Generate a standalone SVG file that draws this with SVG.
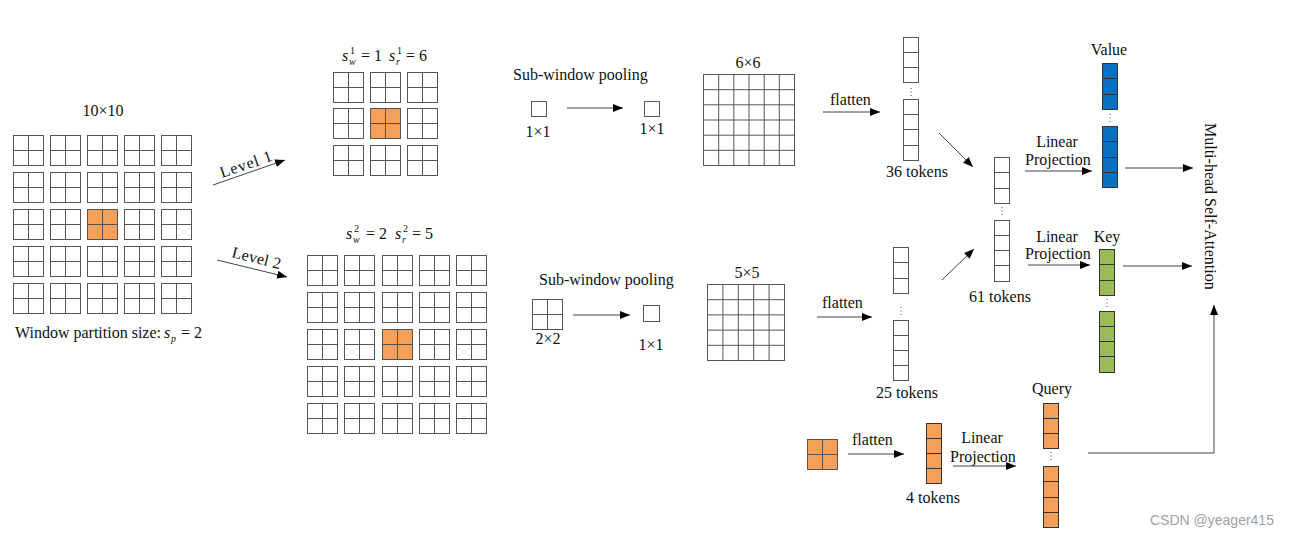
<svg xmlns="http://www.w3.org/2000/svg" xmlns:xlink="http://www.w3.org/1999/xlink" width="1289" height="536" viewBox="0 0 1289 536">
<style>
text{font-family:"Liberation Serif","Times New Roman",serif;font-size:16px;fill:#111}
.c{text-anchor:middle}
.it{font-style:italic}
.sc{font-size:10px}
.g{stroke:#555;stroke-width:1;fill:#fff}
.gl{stroke:#555;stroke-width:1;fill:none}
.dk{stroke:#333;stroke-width:1}
.or{fill:#F5A05A}
.bl{fill:#0B6FBF}
.gr{fill:#9BBB59}
.dots{stroke:#444;stroke-width:1;stroke-dasharray:1 2.5;fill:none}
.ar{stroke:#444;stroke-width:1;fill:none;marker-end:url(#ah)}
.wm{font-family:"Liberation Sans",Arial,sans-serif;font-size:14px;fill:#a0a0a0}
</style>
<defs>
<marker id="ah" markerUnits="userSpaceOnUse" markerWidth="11" markerHeight="9" refX="10" refY="4" orient="auto">
<path d="M0,0 L10,4 L0,8 Z" fill="#000"/>
</marker>
<g id="win"><rect class="g" x="0.5" y="0.5" width="30" height="30"/><path class="gl" d="M15.5 0.5V30.5M0.5 15.5H30.5"/></g>
<g id="wino"><rect class="g or" x="0.5" y="0.5" width="30" height="30"/><path class="gl" d="M15.5 0.5V30.5M0.5 15.5H30.5"/></g>
</defs>
<rect width="1289" height="536" fill="#fff"/>

<g id="input-grid">
<text class="c" x="103" y="116">10×10</text>
<use href="#win" x="13" y="135"/><use href="#win" x="50" y="135"/><use href="#win" x="87" y="135"/><use href="#win" x="124" y="135"/><use href="#win" x="161" y="135"/>
<use href="#win" x="13" y="172"/><use href="#win" x="50" y="172"/><use href="#win" x="87" y="172"/><use href="#win" x="124" y="172"/><use href="#win" x="161" y="172"/>
<use href="#win" x="13" y="209"/><use href="#win" x="50" y="209"/><use href="#wino" x="87" y="209"/><use href="#win" x="124" y="209"/><use href="#win" x="161" y="209"/>
<use href="#win" x="13" y="246"/><use href="#win" x="50" y="246"/><use href="#win" x="87" y="246"/><use href="#win" x="124" y="246"/><use href="#win" x="161" y="246"/>
<use href="#win" x="13" y="283"/><use href="#win" x="50" y="283"/><use href="#win" x="87" y="283"/><use href="#win" x="124" y="283"/><use href="#win" x="161" y="283"/>
<text x="15" y="338">Window partition size:</text>
<text class="it" x="164" y="338">s</text><text class="it sc" x="171" y="342">p</text>
<text x="181" y="338">= 2</text>
</g>

<g id="level1-grid">
<text class="it" x="342" y="61">s</text><text class="sc" x="350" y="54">1</text><text class="it sc" x="349" y="65">w</text><text x="361" y="61">= 1</text>
<text class="it" x="389" y="61">s</text><text class="sc" x="397" y="54">1</text><text class="it sc" x="396" y="65">r</text><text x="406" y="61">= 6</text>
<use href="#win" x="333" y="72"/><use href="#win" x="370" y="72"/><use href="#win" x="407" y="72"/>
<use href="#win" x="333" y="108"/><use href="#wino" x="370" y="108"/><use href="#win" x="407" y="108"/>
<use href="#win" x="333" y="145"/><use href="#win" x="370" y="145"/><use href="#win" x="407" y="145"/>
</g>

<g id="level2-grid">
<text class="it" x="346" y="239">s</text><text class="sc" x="354" y="232">2</text><text class="it sc" x="353" y="243">w</text><text x="366" y="239">= 2</text>
<text class="it" x="395" y="239">s</text><text class="sc" x="403" y="232">2</text><text class="it sc" x="402" y="243">r</text><text x="412" y="239">= 5</text>
<use href="#win" x="307" y="255"/><use href="#win" x="344" y="255"/><use href="#win" x="382" y="255"/><use href="#win" x="419" y="255"/><use href="#win" x="456" y="255"/>
<use href="#win" x="307" y="292"/><use href="#win" x="344" y="292"/><use href="#win" x="382" y="292"/><use href="#win" x="419" y="292"/><use href="#win" x="456" y="292"/>
<use href="#win" x="307" y="329"/><use href="#win" x="344" y="329"/><use href="#wino" x="382" y="329"/><use href="#win" x="419" y="329"/><use href="#win" x="456" y="329"/>
<use href="#win" x="307" y="366"/><use href="#win" x="344" y="366"/><use href="#win" x="382" y="366"/><use href="#win" x="419" y="366"/><use href="#win" x="456" y="366"/>
<use href="#win" x="307" y="403"/><use href="#win" x="344" y="403"/><use href="#win" x="382" y="403"/><use href="#win" x="419" y="403"/><use href="#win" x="456" y="403"/>
</g>

<g id="pool1">
<text x="513" y="80">Sub-window pooling</text>
<rect class="g" x="531.5" y="101.5" width="15" height="15"/>
<text class="c" x="538" y="137">1×1</text>
<rect class="g" x="644.5" y="101.5" width="15" height="15"/>
<text class="c" x="652" y="134">1×1</text>
</g>

<g id="pool2">
<text x="539" y="285">Sub-window pooling</text>
<use href="#win" x="532" y="299"/>
<text class="c" x="548" y="344">2×2</text>
<rect class="g" x="643.5" y="305.5" width="16" height="16"/>
<text class="c" x="651" y="350">1×1</text>
</g>

<g id="grid6">
<text class="c" x="748" y="68">6×6</text>
<rect class="g" x="703.5" y="74.5" width="91" height="91"/>
<path class="gl" d="M718.7 74.5V165.5M733.8 74.5V165.5M749 74.5V165.5M764.2 74.5V165.5M779.3 74.5V165.5M703.5 89.7H794.5M703.5 104.8H794.5M703.5 120H794.5M703.5 135.2H794.5M703.5 150.3H794.5"/>
</g>

<g id="grid5">
<text class="c" x="747" y="278">5×5</text>
<rect class="g" x="707.5" y="284.5" width="77" height="76"/>
<path class="gl" d="M722.9 284.5V360.5M738.3 284.5V360.5M753.7 284.5V360.5M769.1 284.5V360.5M707.5 299.7H784.5M707.5 314.9H784.5M707.5 330.1H784.5M707.5 345.3H784.5"/>
</g>

<g id="tokens36">
<rect class="g" x="903.5" y="37.5" width="15" height="45"/><path class="gl" d="M903.5 52.5H918.5M903.5 67.5H918.5"/>
<line class="dots" x1="911" y1="88" x2="911" y2="97"/>
<rect class="g" x="903.5" y="99.5" width="15" height="61"/><path class="gl" d="M903.5 114.5H918.5M903.5 129.5H918.5M903.5 145.5H918.5"/>
<text class="c" x="917" y="177">36 tokens</text>
</g>

<g id="tokens25">
<rect class="g" x="893.5" y="247.5" width="15" height="46"/><path class="gl" d="M893.5 262.5H908.5M893.5 278.5H908.5"/>
<line class="dots" x1="901" y1="307" x2="901" y2="316"/>
<rect class="g" x="893.5" y="320.5" width="15" height="60"/><path class="gl" d="M893.5 335.5H908.5M893.5 350.5H908.5M893.5 365.5H908.5"/>
<text class="c" x="907" y="398">25 tokens</text>
</g>

<g id="tokens61">
<rect class="g" x="994.5" y="157.5" width="15" height="46"/><path class="gl" d="M994.5 172.5H1009.5M994.5 188.5H1009.5"/>
<line class="dots" x1="1002" y1="207" x2="1002" y2="216"/>
<rect class="g" x="994.5" y="220.5" width="15" height="61"/><path class="gl" d="M994.5 235.5H1009.5M994.5 250.5H1009.5M994.5 265.5H1009.5"/>
<text class="c" x="1000" y="302">61 tokens</text>
</g>

<g id="value">
<text class="c" x="1109" y="55">Value</text>
<rect class="dk bl" x="1102.5" y="63.5" width="15" height="46"/><path class="dk" d="M1102.5 78.5H1117.5M1102.5 94.5H1117.5"/>
<line class="dots" x1="1110" y1="114" x2="1110" y2="123"/>
<rect class="dk bl" x="1102.5" y="126.5" width="15" height="61"/><path class="dk" d="M1102.5 141.5H1117.5M1102.5 157.5H1117.5M1102.5 172.5H1117.5"/>
</g>

<g id="key">
<text class="c" x="1107" y="242">Key</text>
<rect class="dk gr" x="1099.5" y="249.5" width="15" height="46"/><path class="dk" d="M1099.5 264.5H1114.5M1099.5 280.5H1114.5"/>
<line class="dots" x1="1107" y1="299" x2="1107" y2="308"/>
<rect class="dk gr" x="1099.5" y="311.5" width="15" height="61"/><path class="dk" d="M1099.5 326.5H1114.5M1099.5 341.5H1114.5M1099.5 356.5H1114.5"/>
</g>

<g id="query-input">
<use href="#wino" x="807" y="439"/>
</g>

<g id="tokens4">
<rect class="dk or" x="926.5" y="423.5" width="15" height="60"/><path class="dk" d="M926.5 438.5H941.5M926.5 453.5H941.5M926.5 468.5H941.5"/>
<text class="c" x="933" y="503">4 tokens</text>
</g>

<g id="query">
<text class="c" x="1052" y="394">Query</text>
<rect class="dk or" x="1043.5" y="403.5" width="15" height="45"/><path class="dk" d="M1043.5 418.5H1058.5M1043.5 433.5H1058.5"/>
<line class="dots" x1="1051" y1="452" x2="1051" y2="461"/>
<rect class="dk or" x="1043.5" y="466.5" width="15" height="61"/><path class="dk" d="M1043.5 481.5H1058.5M1043.5 497.5H1058.5M1043.5 512.5H1058.5"/>
</g>

<g id="mhsa">
<text transform="translate(1205,123) rotate(90)">Multi-head Self-Attention</text>
</g>

<g id="connectors">
<line class="ar" x1="213" y1="185" x2="285" y2="160"/>
<text transform="translate(222,178) rotate(-19)" textLength="54">Level 1</text>
<line class="ar" x1="217" y1="260" x2="287" y2="277"/>
<text transform="translate(231,257) rotate(14)" textLength="50">Level 2</text>
<line class="ar" x1="567" y1="108" x2="623" y2="108"/>
<line class="ar" x1="573" y1="315" x2="630" y2="315"/>
<line class="ar" x1="823" y1="112" x2="880" y2="112"/>
<text x="830" y="105">flatten</text>
<line class="ar" x1="817" y1="317" x2="872" y2="317"/>
<text x="822" y="308">flatten</text>
<line class="ar" x1="939" y1="133" x2="973" y2="167"/>
<line class="ar" x1="942" y1="280" x2="974" y2="249"/>
<line class="ar" x1="1025" y1="171" x2="1092" y2="171"/>
<text class="c" x="1057" y="147">Linear</text>
<text x="1025" y="165">Projection</text>
<line class="ar" x1="1028" y1="265" x2="1090" y2="265"/>
<text class="c" x="1057" y="242">Linear</text>
<text x="1025" y="259">Projection</text>
<line class="ar" x1="1125" y1="168" x2="1193" y2="168"/>
<line class="ar" x1="1123" y1="266" x2="1192" y2="266"/>
<line class="ar" x1="848" y1="454" x2="904" y2="454"/>
<text x="852" y="445">flatten</text>
<line class="ar" x1="953" y1="466" x2="1016" y2="466"/>
<text class="c" x="982" y="443">Linear</text>
<text x="950" y="462">Projection</text>
<polyline class="ar" points="1088,453 1214,453 1214,305"/>
</g>

<text class="wm" x="1150" y="525">CSDN @yeager415</text>
</svg>
